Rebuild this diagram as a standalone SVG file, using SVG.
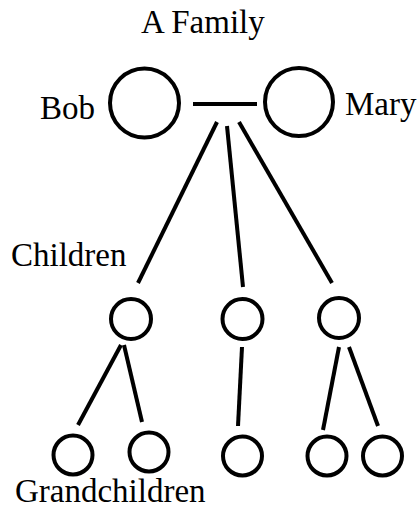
<svg xmlns="http://www.w3.org/2000/svg" width="419" height="514" viewBox="0 0 419 514">
<style>
.n{fill:none;stroke:#000;stroke-width:4}
.c line{stroke:#000;stroke-width:4;stroke-linecap:butt}
.t{font-family:"Liberation Serif","Times New Roman","DejaVu Serif",serif;font-size:33px;fill:#000}
</style>
<rect width="419" height="514" fill="#fff"/>
<text class="t" x="141" y="33">A Family</text>
<g id="bob"><circle class="n" cx="144.5" cy="103" r="34.5"/><text class="t" x="40" y="119">Bob</text></g>
<g id="mary"><circle class="n" cx="299" cy="102" r="34"/><text class="t" x="345" y="115">Mary</text></g>
<text class="t" x="11" y="266">Children</text>
<g id="child1"><circle class="n" cx="131" cy="319" r="20"/></g>
<g id="child2"><circle class="n" cx="242.5" cy="319" r="20"/></g>
<g id="child3"><circle class="n" cx="339" cy="318" r="20"/></g>
<g id="gc1"><circle class="n" cx="73" cy="455" r="19.5"/></g>
<g id="gc2"><circle class="n" cx="149" cy="452" r="19.5"/></g>
<g id="gc3"><circle class="n" cx="242.5" cy="456" r="19.5"/></g>
<g id="gc4"><circle class="n" cx="327" cy="456" r="19.5"/></g>
<g id="gc5"><circle class="n" cx="382.5" cy="456" r="19.5"/></g>
<text class="t" x="15" y="502">Grandchildren</text>
<g class="c" id="connectors">
<line x1="193" y1="104" x2="257" y2="104"/>
<line x1="217" y1="122" x2="138" y2="283"/>
<line x1="227" y1="126" x2="243" y2="287"/>
<line x1="239" y1="122" x2="332" y2="283"/>
<line x1="121" y1="345" x2="78" y2="425"/>
<line x1="124" y1="345" x2="142" y2="422"/>
<line x1="242" y1="347" x2="238" y2="426"/>
<line x1="339" y1="347" x2="323" y2="430"/>
<line x1="349" y1="347" x2="378" y2="426"/>
</g>
</svg>
